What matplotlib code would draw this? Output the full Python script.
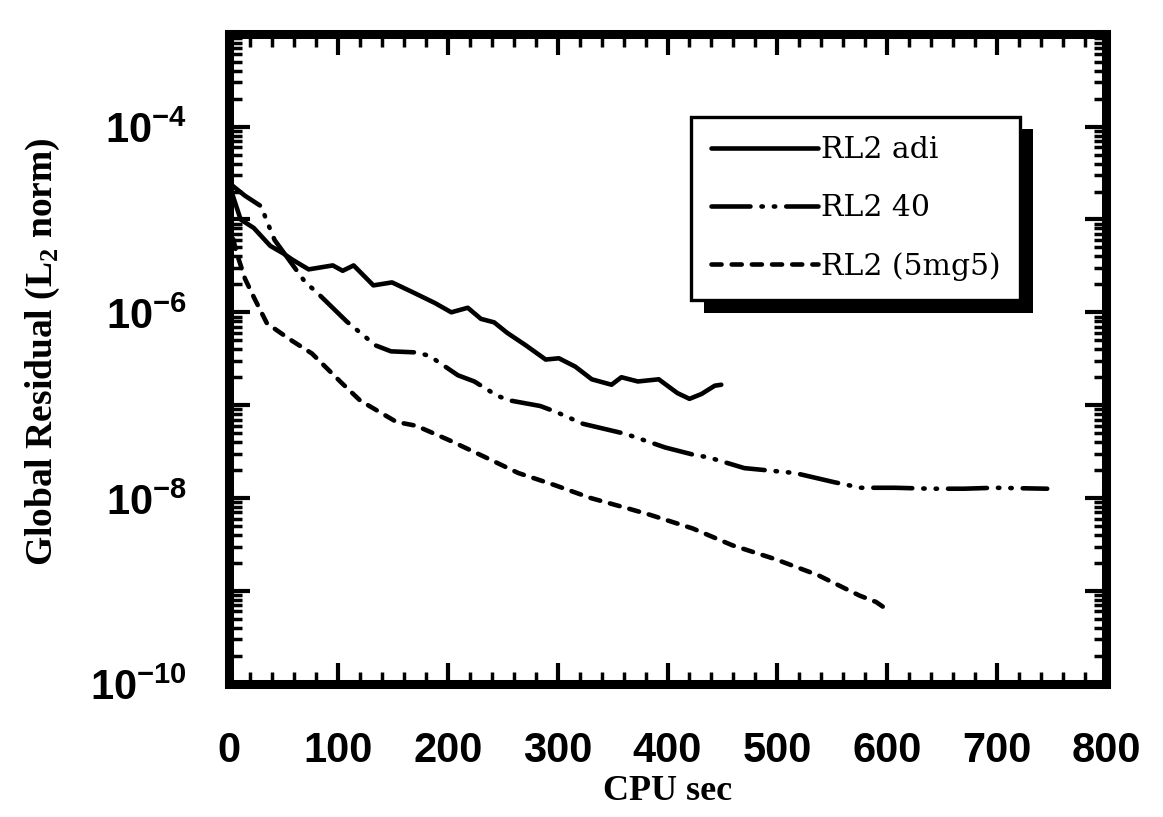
"""Convergence history of the global residual for three RL2 solver variants"""

import numpy as np
import matplotlib
matplotlib.use('Agg')
import matplotlib.pyplot as plt
from matplotlib import ticker
from matplotlib import patheffects as pe
from matplotlib import font_manager as fm

# Residual histories (CPU seconds, L2 norm of global residual)
adi_t = [0, 11, 23, 38, 50, 58, 73, 95, 104, 114, 132, 149, 170, 188, 203,
         218, 230, 242, 254, 271, 289, 301, 316, 331, 349, 358, 373, 392,
         409, 420, 431, 443, 449]
adi_res = [2.5e-5, 1.0e-5, 8.1e-6, 5.2e-6, 4.3e-6, 3.7e-6, 2.9e-6, 3.2e-6,
           2.8e-6, 3.2e-6, 1.95e-6, 2.1e-6, 1.6e-6, 1.26e-6, 1.0e-6, 1.12e-6,
           8.5e-7, 7.8e-7, 6.0e-7, 4.4e-7, 3.1e-7, 3.2e-7, 2.6e-7, 1.9e-7,
           1.66e-7, 2.0e-7, 1.8e-7, 1.9e-7, 1.35e-7, 1.17e-7, 1.32e-7,
           1.62e-7, 1.66e-7]

rl40_t = [0, 15, 30, 34, 42, 70, 80, 108, 134, 148, 171, 183, 209, 224, 245,
          257, 284, 298, 323, 362, 398, 425, 437, 470, 516, 552, 576, 607,
          640, 670, 698, 746]
rl40_res = [2.5e-5, 1.8e-5, 1.38e-5, 1.02e-5, 6.0e-6, 2.1e-6, 1.66e-6,
            7.9e-7, 4.4e-7, 3.8e-7, 3.7e-7, 3.4e-7, 2.1e-7, 1.8e-7, 1.26e-7,
            1.12e-7, 9.8e-8, 8.5e-8, 6.3e-8, 4.9e-8, 3.5e-8, 2.9e-8, 2.75e-8,
            2.1e-8, 1.86e-8, 1.48e-8, 1.29e-8, 1.29e-8, 1.26e-8, 1.26e-8,
            1.29e-8, 1.26e-8]

mg_t = [0, 7, 15, 24, 35, 56, 76, 103, 120, 153, 171, 201, 234, 264, 297, 330,
        366, 384, 423, 459, 498, 537, 575, 590, 600]
mg_res = [1.0e-5, 4.5e-6, 2.3e-6, 1.38e-6, 7.6e-7, 5.1e-7, 3.6e-7, 1.74e-7,
          1.12e-7, 6.6e-8, 6.0e-8, 4.2e-8, 2.75e-8, 1.86e-8, 1.38e-8, 1.0e-8,
          7.6e-9, 6.6e-9, 4.7e-9, 3.1e-9, 2.2e-9, 1.48e-9, 8.9e-10, 7.6e-10,
          6.3e-10]

labels = ['RL2 adi', 'RL2 40', 'RL2 (5mg5)']

# Fonts: narrow bold sans for the tick numbers, serif for the rest
names = {f.name for f in fm.fontManager.ttflist}
tick_font = 'Liberation Sans Narrow' if 'Liberation Sans Narrow' in names else 'Liberation Sans'
plt.rcParams['mathtext.fontset'] = 'custom'
plt.rcParams['mathtext.sf'] = tick_font + ':bold'
plt.rcParams['mathtext.rm'] = 'Liberation Serif:bold'
plt.rcParams['mathtext.bf'] = 'Liberation Serif:bold'

fig = plt.figure(figsize=(11.63, 8.17), dpi=100)
ax = fig.add_axes([0.1965, 0.1631, 0.7549, 0.7956])

lw = 3.3
ax.plot(adi_t, adi_res, color='k', lw=lw, solid_capstyle='round',
        solid_joinstyle='round', label=labels[0])
ax.plot(rl40_t, rl40_res, color='k', lw=lw, dash_capstyle='round',
        linestyle=(0, (8.5, 2.4, 0.3, 2.4, 0.3, 2.4)), label=labels[1])
ax.plot(mg_t, mg_res, color='k', lw=lw, dash_capstyle='round',
        linestyle=(0, (2.2, 2.2)), label=labels[2])

ax.set_yscale('log')
ax.set_xlim(0, 800)
ax.set_ylim(1e-10, 1e-3)

ax.xaxis.set_major_locator(ticker.MultipleLocator(100))
ax.xaxis.set_minor_locator(ticker.MultipleLocator(20))
ax.yaxis.set_major_locator(ticker.LogLocator(base=10, numticks=20))
ax.yaxis.set_minor_locator(ticker.LogLocator(base=10, subs=np.arange(2, 10), numticks=20))
ax.yaxis.set_minor_formatter(ticker.NullFormatter())


def y_fmt(val, pos):
    e = int(round(np.log10(val)))
    if e % 2 == 0 and e <= -4:
        return r'$\mathsf{10^{%d}}$' % e
    return ''


ax.yaxis.set_major_formatter(ticker.FuncFormatter(y_fmt))
ax.xaxis.set_major_formatter(ticker.FuncFormatter(lambda v, p: '%d' % v))

ax.tick_params(which='both', direction='in', top=True, right=True, color='k')
ax.tick_params(which='major', length=15, width=3)
ax.tick_params(which='minor', length=9, width=2.5)
ax.tick_params(axis='x', which='major', pad=34, labelsize=30)
ax.tick_params(axis='y', which='major', pad=30, labelsize=30)
for lab in ax.get_xticklabels():
    lab.set_fontfamily(tick_font)
    lab.set_fontweight('bold')

for sp in ax.spines.values():
    sp.set_linewidth(6.5)

ax.set_xlabel('CPU sec', fontsize=26, fontweight='bold', family='Liberation Serif')
ax.xaxis.set_label_coords(0.5, -0.14)
ax.set_ylabel(r'Global Residual (L$_{2}$ norm)', fontsize=27, fontweight='bold',
              family='Liberation Serif')
ax.yaxis.set_label_coords(-0.19, 0.51)

# Boxed legend with a solid black drop shadow
leg = ax.legend(loc='upper left', bbox_to_anchor=(0.527, 0.872), borderaxespad=0,
                frameon=True, fancybox=False, framealpha=1, edgecolor='k',
                handlelength=3.6, handletextpad=0.1, labelspacing=1.0,
                borderpad=0.65, prop={'family': 'DejaVu Serif', 'size': 21.5})
frame = leg.get_frame()
frame.set_linewidth(2.4)
frame.set_path_effects([pe.SimplePatchShadow(offset=(9, -9), shadow_rgbFace='k', alpha=1.0),
                        pe.Normal()])

fig.savefig('out.png', dpi=100)
